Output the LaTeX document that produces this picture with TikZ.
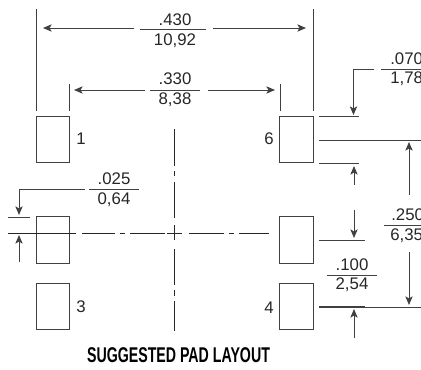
\documentclass[tikz,border=0pt]{standalone}
\usepackage{fontspec}
\setmainfont{Liberation Sans}
\usepackage{xcolor}
\usepackage{tikz}
\usetikzlibrary{arrows.meta, positioning}
\definecolor{inkline}{gray}{0.25}
\tikzstyle{padbox}=[draw=inkline, line width=0.7pt, inner sep=0pt, minimum width=25pt, minimum height=35pt]
\tikzstyle{dimtext}=[inner sep=0pt, font=\fontsize{12.6}{13}\selectfont, text=black!85]
\tikzstyle{dimline}=[draw=inkline, line width=0.6pt]
\tikzstyle{dimarrow}=[dimline, -{Stealth[length=6.5pt,width=5.5pt,inset=1.6pt]}]
\tikzstyle{centerline}=[draw=black!85, line width=0.6pt]

\begin{document}
\begin{tikzpicture}[x=0.75pt, y=-0.75pt]
\clip (0,0) rectangle (421,370);

% pads
\node[padbox] (pad1) at (53,139.5) {};
\node[padbox] (pad2) at (53,240) {};
\node[padbox] (pad3) at (53,306.5) {};
\node[padbox] (pad6) at (296.5,139.5) {};
\node[padbox] (pad5) at (296.5,240) {};
\node[padbox] (pad4) at (296.5,306.5) {};
\node[dimtext] (num1) at (81,139) {1};
\node[dimtext] (num3) at (81,307) {3};
\node[dimtext] (num6) at (269,139) {6};
\node[dimtext] (num4) at (269,308) {4};

% center lines
\foreach \ya/\yb in {129/166, 171/176, 182/218, 225/240, 249/285, 290/296, 301/331}
  \draw[centerline] (174.5,\ya) -- (174.5,\yb);
\foreach \xa/\xb in {8/76, 82/115, 120/125, 130/165, 167/182, 189/224, 229/234, 239/269}
  \draw[centerline] (\xa,233) -- (\xb,233);

% .430
\coordinate (ext1a) at (36,9);
\coordinate (ext1b) at (36,111);
\coordinate (ext2a) at (313,9);
\coordinate (ext2b) at (313,111);
\draw[dimline] (ext1a) -- (ext1b);
\draw[dimline] (ext2a) -- (ext2b);
\node[dimtext] (top1) at (175,20) {.430};
\node[dimtext] (bot1) at (175,41) {10,92};
\coordinate (rule1a) at (140,29);
\coordinate (rule1b) at (206,29);
\draw[dimline] (rule1a) -- (rule1b);
\coordinate (arr1a) at (134,28);
\coordinate (arr1b) at (43,28);
\coordinate (arr1c) at (213,28);
\coordinate (arr1d) at (306,28);
\draw[dimarrow] (arr1a) -- (arr1b);
\draw[dimarrow] (arr1c) -- (arr1d);

% .330
\coordinate (ext3a) at (69,84);
\coordinate (ext3b) at (69,111);
\coordinate (ext4a) at (280,84);
\coordinate (ext4b) at (280,111);
\draw[dimline] (ext3a) -- (ext3b);
\draw[dimline] (ext4a) -- (ext4b);
\node[dimtext] (top2) at (175,79) {.330};
\node[dimtext] (bot2) at (175,100) {8,38};
\coordinate (rule2a) at (150,90);
\coordinate (rule2b) at (200,90);
\draw[dimline] (rule2a) -- (rule2b);
\coordinate (arr2a) at (145,90);
\coordinate (arr2b) at (74,90);
\coordinate (arr2c) at (208,90);
\coordinate (arr2d) at (275,90);
\draw[dimarrow] (arr2a) -- (arr2b);
\draw[dimarrow] (arr2c) -- (arr2d);

% .025
\node[dimtext] (top3) at (114,179) {.025};
\node[dimtext] (bot3) at (114,200) {0,64};
\coordinate (rule3a) at (89,189);
\coordinate (rule3b) at (139,189);
\draw[dimline] (rule3a) -- (rule3b);
\coordinate (lead3a) at (85,189);
\coordinate (lead3b) at (19,189);
\coordinate (lead3c) at (19,215);
\draw[dimarrow] (lead3a) -- (lead3b) -- (lead3c);
\coordinate (ext5a) at (8,217);
\coordinate (ext5b) at (30,217);
\draw[dimline] (ext5a) -- (ext5b);
\coordinate (arr3a) at (19,262);
\coordinate (arr3b) at (19,235);
\draw[dimarrow] (arr3a) -- (arr3b);

% .070
\node[dimtext, anchor=west] (top4) at (390,59) {.070};
\node[dimtext, anchor=west] (bot4) at (390,79) {1,78};
\coordinate (rule4a) at (381,69);
\coordinate (rule4b) at (421,69);
\draw[dimline] (rule4a) -- (rule4b);
\coordinate (lead4a) at (374,69);
\coordinate (lead4b) at (353.5,69);
\coordinate (lead4c) at (353.5,115);
\draw[dimarrow] (lead4a) -- (lead4b) -- (lead4c);
\coordinate (ext6a) at (319,116);
\coordinate (ext6b) at (359,116);
\coordinate (ext7a) at (319,163);
\coordinate (ext7b) at (359,163);
\draw[dimline] (ext6a) -- (ext6b);
\draw[dimline] (ext7a) -- (ext7b);
\coordinate (arr4a) at (354,185);
\coordinate (arr4b) at (354,166);
\draw[dimarrow] (arr4a) -- (arr4b);

% .250
\node[dimtext, anchor=west] (top5) at (391,215) {.250};
\node[dimtext, anchor=west] (bot5) at (390,236) {6,35};
\coordinate (rule5a) at (384,225);
\coordinate (rule5b) at (421,225);
\draw[dimline] (rule5a) -- (rule5b);
\coordinate (ext8a) at (319,140);
\coordinate (ext8b) at (421,140);
\coordinate (ext9a) at (319,307);
\coordinate (ext9b) at (421,307);
\draw[dimline] (ext8a) -- (ext8b);
\draw[dimline] (ext9a) -- (ext9b);
\coordinate (arr5a) at (409,195);
\coordinate (arr5b) at (409,142);
\coordinate (arr5c) at (409,252);
\coordinate (arr5d) at (409,305);
\draw[dimarrow] (arr5a) -- (arr5b);
\draw[dimarrow] (arr5c) -- (arr5d);

% .100
\node[dimtext] (top6) at (352,265) {.100};
\node[dimtext] (bot6) at (352,285) {2,54};
\coordinate (rule6a) at (327,275);
\coordinate (rule6b) at (377,275);
\draw[dimline] (rule6a) -- (rule6b);
\coordinate (ext10a) at (319,240);
\coordinate (ext10b) at (365,240);
\draw[dimline] (ext10a) -- (ext10b);
\coordinate (ext11b) at (365,307);
\draw[dimline, line width=1pt] (ext9a) -- (ext11b);
\coordinate (arr6a) at (354,210);
\coordinate (arr6b) at (354,238);
\coordinate (arr6c) at (354,338);
\coordinate (arr6d) at (354,309);
\draw[dimarrow] (arr6a) -- (arr6b);
\draw[dimarrow] (arr6c) -- (arr6d);

% title
\node[inner sep=0pt] (title) at (178.5,355.5) {\scalebox{0.665}[1]{\fontsize{16}{16}\selectfont\bfseries SUGGESTED PAD LAYOUT}};
\end{tikzpicture}
\end{document}
